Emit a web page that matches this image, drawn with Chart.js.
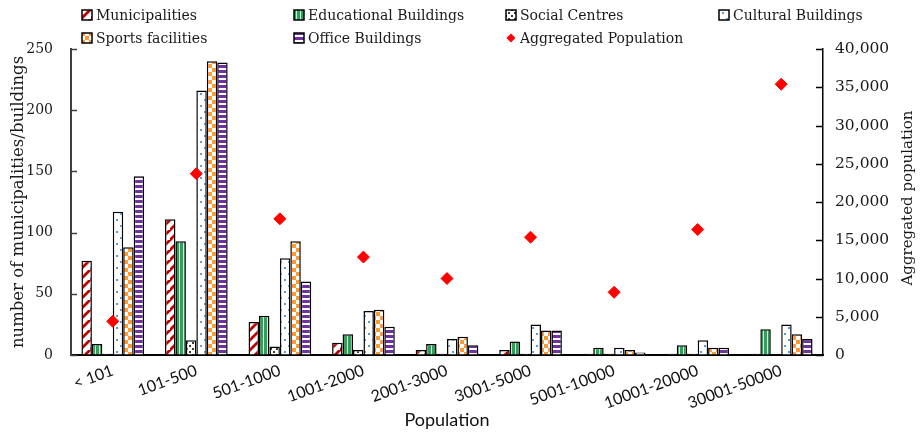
<!DOCTYPE html>
<html>
<head>
<meta charset="utf-8">
<script src="https://cdn.jsdelivr.net/npm/chart.js@4.4.1/dist/chart.umd.min.js"></script>
<style>
  html, body { margin: 0; padding: 0; background: #fff; }
  #wrap { position: relative; width: 921px; height: 435px; }
  #grafico { position: absolute; left: 0; top: 0; }
  .leg { position: absolute; font: 14px "DejaVu Serif", serif; color: #1a1a1a; white-space: nowrap; display: flex; align-items: center; height: 18px; }
  .leg canvas { margin-right: 3px; }
</style>
</head>
<body>
<div id="wrap">
  <canvas id="grafico" width="921" height="435"></canvas>
</div>
<script>
// dados
const categorias = ['< 101', '101-500', '501-1000', '1001-2000', '2001-3000', '3001-5000', '5001-10000', '10001-20000', '30001-50000'];
const municipios = [77, 111, 27, 10, 4, 4, 1, 1, 1];
const educacionais = [9, 93, 32, 17, 9, 11, 6, 8, 21];
const centrosSociais = [1, 12, 7, 4, 1, 1, 1, 1, 0];
const culturais = [117, 216, 79, 36, 13, 25, 6, 12, 25];
const esportivos = [88, 240, 93, 37, 15, 20, 4, 6, 17];
const escritorios = [146, 239, 60, 23, 8, 20, 2, 6, 13];
const populacao = [4400, 23700, 17800, 12800, 10000, 15400, 8200, 16400, 35400];
const ticksEsq = [0, 50, 100, 150, 200, 250];
const ticksDir = [0, 5000, 10000, 15000, 20000, 25000, 30000, 35000, 40000];

// padrões de preenchimento
function padrao(w, h, desenha) {
  const c = document.createElement('canvas');
  c.width = w; c.height = h;
  const g = c.getContext('2d');
  desenha(g, w, h);
  return document.createElement('canvas').getContext('2d').createPattern(c, 'repeat');
}

const pMunic = padrao(10, 10, (g, w, h) => {
  g.fillStyle = '#fff'; g.fillRect(0, 0, w, h);
  g.strokeStyle = '#c00000'; g.lineWidth = 2.8;
  g.beginPath();
  g.moveTo(-2, h + 2); g.lineTo(w + 2, -2);
  g.moveTo(-2 - w, h + 2); g.lineTo(2, -2);
  g.moveTo(w - 2, 2 * h + 2); g.lineTo(2 * w + 2, h - 2);
  g.stroke();
});
const pEdu = padrao(4, 1, (g) => {
  g.fillStyle = '#2ea05a'; g.fillRect(0, 0, 3, 1);
  g.fillStyle = '#c9f0d4'; g.fillRect(3, 0, 1, 1);
});
const pSocial = padrao(6, 6, (g) => {
  g.fillStyle = '#fff'; g.fillRect(0, 0, 6, 6);
  g.fillStyle = '#3f3b28';
  g.fillRect(0, 0, 2, 2); g.fillRect(3, 3, 2, 2);
});
const pCultural = padrao(8, 12, (g) => {
  g.fillStyle = '#fff'; g.fillRect(0, 0, 8, 12);
  g.fillStyle = '#5b9bd5';
  g.fillRect(4, 3, 2, 2); g.fillRect(0, 9, 2, 2);
});
const pEsporte = padrao(8, 8, (g) => {
  g.fillStyle = '#fff'; g.fillRect(0, 0, 8, 8);
  g.fillStyle = '#ff9933';
  g.fillRect(0, 0, 4, 4); g.fillRect(4, 4, 4, 4);
});
const pEscritorio = padrao(1, 5, (g) => {
  g.fillStyle = '#7030a0'; g.fillRect(0, 0, 1, 3);
  g.fillStyle = '#fff'; g.fillRect(0, 3, 1, 2);
});

const series = [
  { label: 'Municipalities', data: municipios, fill: pMunic },
  { label: 'Educational Buildings', data: educacionais, fill: pEdu },
  { label: 'Social Centres', data: centrosSociais, fill: pSocial },
  { label: 'Cultural Buildings', data: culturais, fill: pCultural },
  { label: 'Sports facilities', data: esportivos, fill: pEsporte },
  { label: 'Office Buildings', data: escritorios, fill: pEscritorio }
];

const datasets = series.map(s => ({
  type: 'bar',
  label: s.label,
  data: s.data,
  backgroundColor: s.fill,
  borderColor: '#000',
  borderWidth: 1.5,
  yAxisID: 'y',
  order: 2,
  categoryPercentage: 0.75,
  barPercentage: 1.0
}));
datasets.push({
  type: 'line',
  label: 'Aggregated Population',
  data: populacao,
  showLine: false,
  pointStyle: 'rectRot',
  pointRadius: 6,
  pointBackgroundColor: '#ff0000',
  pointBorderColor: '#ff0000',
  yAxisID: 'y1',
  order: 1
});

// marcas de escala voltadas para dentro e título do eixo direito
const extras = {
  id: 'extras',
  afterDraw(chart) {
    const { ctx, chartArea } = chart;
    const y = chart.scales.y, y1 = chart.scales.y1;
    ctx.save();
    ctx.strokeStyle = '#404040'; ctx.lineWidth = 1.5;
    ticksEsq.forEach(v => {
      const py = Math.round(y.getPixelForValue(v)) + 0.5;
      ctx.beginPath(); ctx.moveTo(chartArea.left, py); ctx.lineTo(chartArea.left + 6, py); ctx.stroke();
    });
    ctx.strokeStyle = '#000';
    ticksDir.forEach(v => {
      const py = Math.round(y1.getPixelForValue(v)) + 0.5;
      ctx.beginPath(); ctx.moveTo(chartArea.right - 7, py); ctx.lineTo(chartArea.right, py); ctx.stroke();
    });
    ctx.translate(908, 198);
    ctx.rotate(-Math.PI / 2);
    ctx.fillStyle = '#1a1a1a';
    ctx.font = '15px "DejaVu Serif"';
    ctx.textAlign = 'center'; ctx.textBaseline = 'middle';
    ctx.fillText('Aggregated population', 0, 0);
    ctx.restore();
  }
};

new Chart(document.getElementById('grafico'), {
  data: { labels: categorias, datasets },
  plugins: [extras],
  options: {
    responsive: false,
    devicePixelRatio: 1,
    animation: false,
    layout: { padding: { top: 49, left: 0, right: 0, bottom: 0 } },
    plugins: { legend: { display: false }, tooltip: { enabled: false } },
    scales: {
      x: {
        grid: { drawOnChartArea: false, drawTicks: false },
        border: { color: '#000', width: 2 },
        ticks: { color: '#111', font: { family: 'Lato', size: 16 }, minRotation: 20, maxRotation: 20, autoSkip: false, padding: 6 },
        title: { display: true, text: 'Population', color: '#111', font: { family: 'Lato', size: 18 }, padding: { top: 0, bottom: 4 } },
        afterFit(s) { s.height = 80; }
      },
      y: {
        position: 'left',
        min: 0, max: 250,
        afterBuildTicks(s) { s.ticks = ticksEsq.map(v => ({ value: v })); },
        grid: { drawOnChartArea: false, drawTicks: false },
        border: { color: '#404040', width: 2 },
        ticks: { color: '#1a1a1a', font: { family: '"DejaVu Serif", serif', size: 14 }, padding: 18 },
        title: { display: true, text: 'number of municipalities/buildings', color: '#1a1a1a', font: { family: '"DejaVu Serif", serif', size: 16.5 }, padding: { top: 9, bottom: 0 } },
        afterFit(s) { s.width = 71; }
      },
      y1: {
        position: 'right',
        min: 0, max: 40000,
        afterBuildTicks(s) { s.ticks = ticksDir.map(v => ({ value: v })); },
        grid: { drawOnChartArea: false, drawTicks: false },
        border: { color: '#000', width: 1.5 },
        ticks: { color: '#1a1a1a', font: { family: '"DejaVu Serif", serif', size: 15.5 }, padding: 12 },
        afterFit(s) { s.width = 98; }
      }
    }
  }
});

// legenda em HTML
const wrap = document.getElementById('wrap');
const itensLegenda = [
  { s: series[0], x: 81, y: 6 }, { s: series[1], x: 293, y: 6 }, { s: series[2], x: 505, y: 6 }, { s: series[3], x: 718, y: 6 },
  { s: series[4], x: 81, y: 29 }, { s: series[5], x: 293, y: 29 }, { s: null, x: 505, y: 29, label: 'Aggregated Population' }
];
itensLegenda.forEach(it => {
  const d = document.createElement('div');
  d.className = 'leg';
  d.style.left = it.x + 'px'; d.style.top = it.y + 'px';
  const c = document.createElement('canvas');
  c.width = 12; c.height = 12;
  const g = c.getContext('2d');
  if (it.s) {
    g.fillStyle = it.s.fill; g.fillRect(1, 1, 10, 10);
    g.strokeStyle = '#000'; g.lineWidth = 1.5; g.strokeRect(1, 1, 10, 10);
  } else {
    g.fillStyle = '#ff0000';
    g.beginPath(); g.moveTo(6, 1.5); g.lineTo(10.5, 6); g.lineTo(6, 10.5); g.lineTo(1.5, 6); g.closePath(); g.fill();
  }
  d.appendChild(c);
  const t = document.createElement('span');
  t.textContent = it.s ? it.s.label : it.label;
  d.appendChild(t);
  wrap.appendChild(d);
});
</script>
</body>
</html>
